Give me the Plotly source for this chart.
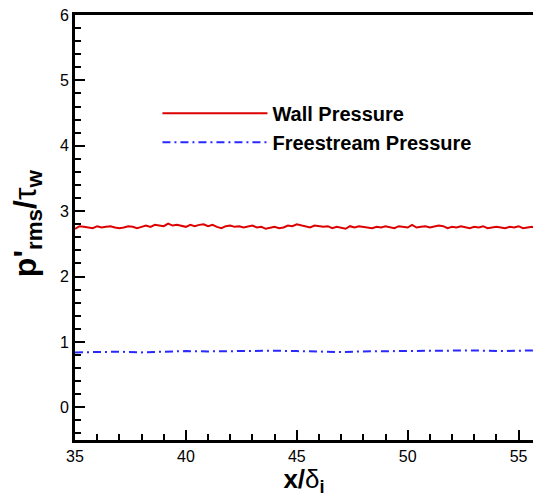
import numpy as np
import plotly.graph_objects as go

# Streamwise station x/delta_i for the wall-pressure record (spacing 0.2)
x_wall = np.round(np.arange(35.0, 55.81, 0.2), 2)
# p'_rms / tau_w at the wall
p_wall = [
    2.73, 2.77, 2.76, 2.75, 2.74, 2.77, 2.75, 2.76, 2.77, 2.75,
    2.74, 2.75, 2.77, 2.76, 2.74, 2.76, 2.78, 2.76, 2.79, 2.78,
    2.77, 2.81, 2.78, 2.79, 2.77, 2.76, 2.79, 2.77, 2.79, 2.80,
    2.77, 2.79, 2.76, 2.74, 2.77, 2.78, 2.76, 2.77, 2.75, 2.76,
    2.78, 2.75, 2.76, 2.73, 2.74, 2.76, 2.74, 2.75, 2.78, 2.77,
    2.80, 2.78, 2.76, 2.75, 2.78, 2.77, 2.76, 2.77, 2.74, 2.76,
    2.75, 2.73, 2.77, 2.75, 2.77, 2.76, 2.75, 2.74, 2.76, 2.75,
    2.77, 2.75, 2.74, 2.77, 2.76, 2.75, 2.79, 2.75, 2.76, 2.77,
    2.75, 2.76, 2.78, 2.77, 2.74, 2.76, 2.75, 2.77, 2.76, 2.74,
    2.76, 2.75, 2.77, 2.74, 2.75, 2.76, 2.75, 2.74, 2.76, 2.75,
    2.77, 2.74, 2.75, 2.76, 2.74,
]

# Freestream pressure record (coarser sampling)
x_free = [35.0, 36.0, 37.0, 38.0, 39.0, 40.0, 41.0, 42.0, 43.0, 44.0,
          45.0, 46.0, 47.0, 48.0, 49.0, 50.0, 51.0, 52.0, 53.0, 54.0,
          55.0, 55.8]
p_free = [0.84, 0.845, 0.85, 0.84, 0.85, 0.86, 0.855, 0.86, 0.87, 0.865,
          0.86, 0.85, 0.845, 0.855, 0.86, 0.855, 0.86, 0.865, 0.87, 0.86,
          0.865, 0.87]

x_range = [35, 55.65]
y_range = [-0.5, 6]

FONT = "Liberation Sans, Arial, sans-serif"

fig = go.Figure()
fig.add_trace(go.Scatter(
    x=x_wall, y=p_wall, mode="lines", name="Wall Pressure",
    line=dict(color="rgb(220,0,0)", width=2),
))
fig.add_trace(go.Scatter(
    x=x_free, y=p_free, mode="lines", name="Freestream Pressure",
    line=dict(color="rgb(40,40,255)", width=2, dash="8px,4px,2px,4px"),
))

axis_common = dict(
    showgrid=False, zeroline=False,
    showline=True, linecolor="black", linewidth=3,
    ticks="inside", ticklen=10, tickwidth=2, tickcolor="black",
    tickfont=dict(family=FONT, size=16, color="black"),
)

# x-axis mirrors its line onto the top edge; the right edge stays open
fig.update_xaxes(
    range=x_range, tick0=35, dtick=5, mirror=True,
    minor=dict(ticks="inside", ticklen=6, tickwidth=1.5, dtick=1, tickcolor="black"),
    title=dict(
        text="<b>x/</b>δ<sub><b>i</b></sub>", standoff=5,
        font=dict(family=FONT, size=26, color="black"),
    ),
    **axis_common,
)
fig.update_yaxes(
    range=y_range, tick0=0, dtick=1, mirror=False,
    minor=dict(ticks="inside", ticklen=6, tickwidth=1.5, dtick=0.2, tickcolor="black"),
    **axis_common,
)

fig.add_annotation(
    xref="paper", yref="paper", x=-0.105, y=0.51,
    xanchor="center", yanchor="middle",
    text="<b>p'</b><sub><b>rms</b></sub><b>/</b>τ<sub><b>w</b></sub>",
    textangle=-90, showarrow=False,
    font=dict(family=FONT, size=32, color="black"),
)

fig.update_layout(
    width=534, height=497,
    margin=dict(l=75, r=1, t=15, b=57, autoexpand=False),
    paper_bgcolor="white", plot_bgcolor="white",
    font=dict(family=FONT, color="black"),
    legend=dict(
        x=0.18, y=0.815, xanchor="left", yanchor="top",
        bgcolor="rgba(0,0,0,0)", itemwidth=105,
        font=dict(family=FONT, size=20, color="black", weight="bold"),
        tracegroupgap=0,
    ),
)

fig.write_html("out.html")
